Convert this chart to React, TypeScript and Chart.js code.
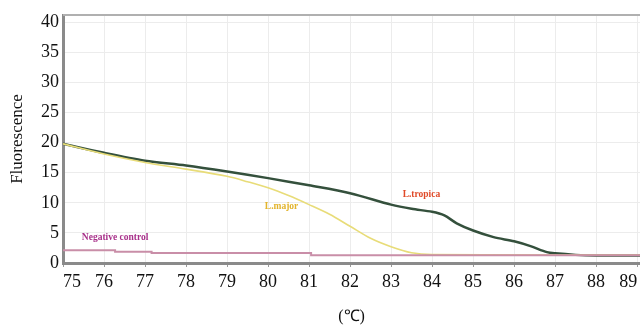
import React, { useEffect, useRef } from "react";
import { Chart, registerables } from "chart.js";

Chart.register(...registerables);

// Melting curve data (temperature °C -> fluorescence)
const tropicaTemps = [75, 76, 77, 78, 79, 80, 81, 82, 83, 83.5, 84, 84.3, 84.6, 85, 85.5, 86, 86.4, 86.8, 87, 87.5, 88, 89.1];
const tropicaValues = [19.8, 18.3, 17.0, 16.2, 15.2, 14.1, 12.9, 11.6, 9.7, 9.0, 8.5, 7.9, 6.6, 5.4, 4.3, 3.6, 2.8, 1.8, 1.6, 1.35, 1.25, 1.25];

const majorTemps = [75, 76, 77, 78, 79, 79.5, 80, 80.5, 81, 81.5, 82, 82.5, 83, 83.5, 84, 89.1];
const majorValues = [19.8, 18.1, 16.7, 15.6, 14.4, 13.5, 12.5, 11.2, 9.7, 8.1, 6.1, 4.1, 2.7, 1.7, 1.4, 1.3];

const negTemps = [75, 76.27, 76.27, 77.16, 77.16, 81.05, 81.05, 89.1];
const negValues = [2.1, 2.1, 1.85, 1.85, 1.65, 1.65, 1.3, 1.3];

const seriesNames = ["L.tropica", "L.major", "Negative control"];

const xTitle = "(℃)";
const yTitle = "Fluorescence";

// In-plot labels: [text, temperature, fluorescence]
const labelTexts = ["Negative control", "L.tropica", "L.major"];
const labelTemps = [75.46, 83.74, 80.33];
const labelValues = [4.15, 11.4, 9.35];
const labelColors = ["#a8308a", "#e04a28", "#e2b42c"];

const toPoints = (xs: number[], ys: number[]) => xs.map((x, i) => ({ x, y: ys[i] }));

const annotationPlugin = {
  id: "curveLabels",
  afterDatasetsDraw(chart: any) {
    const { ctx, scales, chartArea } = chart;
    ctx.save();
    // top frame line
    ctx.strokeStyle = "#b0b0b0";
    ctx.lineWidth = 2;
    ctx.beginPath();
    ctx.moveTo(chartArea.left, chartArea.top);
    ctx.lineTo(chartArea.right, chartArea.top);
    ctx.stroke();
    ctx.font = "bold 9.5px 'Liberation Serif', serif";
    ctx.textBaseline = "middle";
    labelTexts.forEach((t, i) => {
      const px = scales.x.getPixelForValue(labelTemps[i]);
      const py = scales.y.getPixelForValue(labelValues[i]);
      ctx.fillStyle = labelColors[i];
      ctx.textAlign = i === 0 ? "left" : "center";
      ctx.fillText(t, px, py);
    });
    ctx.restore();
  },
};

export default function App() {
  const ref = useRef<HTMLCanvasElement>(null);
  useEffect(() => {
    if (!ref.current) return;
    const chart = new Chart(ref.current, {
      type: "line",
      data: {
        datasets: [
          {
            label: seriesNames[2],
            data: toPoints(negTemps, negValues),
            borderColor: "#c98ea8",
            borderWidth: 2,
            pointRadius: 0,
            tension: 0,
          },
          {
            label: seriesNames[1],
            data: toPoints(majorTemps, majorValues),
            borderColor: "#e8dc78",
            borderWidth: 1.6,
            pointRadius: 0,
            tension: 0.3,
          },
          {
            label: seriesNames[0],
            data: toPoints(tropicaTemps, tropicaValues),
            borderColor: "#34503c",
            borderWidth: 2.5,
            pointRadius: 0,
            tension: 0.3,
          },
        ],
      },
      options: {
        animation: false,
        responsive: false,
        layout: { padding: { top: 15, right: 0, bottom: 0, left: 0 } },
        plugins: { legend: { display: false }, tooltip: { enabled: false } },
        scales: {
          x: {
            type: "linear",
            min: 75,
            max: 89.07,
            afterFit: (s: any) => {
              s.height = 63;
              s.paddingRight = 0;
              s.paddingLeft = 0;
            },
            ticks: {
              stepSize: 1,
              includeBounds: false,
              align: "inner",
              padding: 4,
              color: "#111",
              font: { family: "'Liberation Serif', serif", size: 18 },
            },
            grid: { color: "#ececec", tickColor: "#999", tickLength: 4, lineWidth: 1 },
            border: { color: "#8a8a8a", width: 3 },
            title: {
              display: true,
              text: xTitle,
              color: "#111",
              font: { family: "'Liberation Serif', serif", size: 16 },
              padding: { top: 0, bottom: 0 },
            },
          },
          y: {
            min: 0,
            max: 41.2,
            afterFit: (s: any) => {
              s.width = 63;
              s.paddingTop = 0;
            },
            ticks: {
              stepSize: 5,
              includeBounds: false,
              padding: 4,
              color: "#111",
              font: { family: "'Liberation Serif', serif", size: 18 },
            },
            grid: { color: "#ececec", drawTicks: false },
            border: { color: "#8a8a8a", width: 3 },
            title: {
              display: true,
              text: yTitle,
              color: "#111",
              font: { family: "'Liberation Serif', serif", size: 17 },
              padding: { top: 7, bottom: 0 },
            },
          },
        },
      },
      plugins: [annotationPlugin],
    });
    return () => chart.destroy();
  }, []);
  return (
    <div style={{ position: "absolute", left: 0, top: 0, width: 640, height: 326, background: "#fff" }}>
      <canvas ref={ref} width={640} height={326} />
    </div>
  );
}
